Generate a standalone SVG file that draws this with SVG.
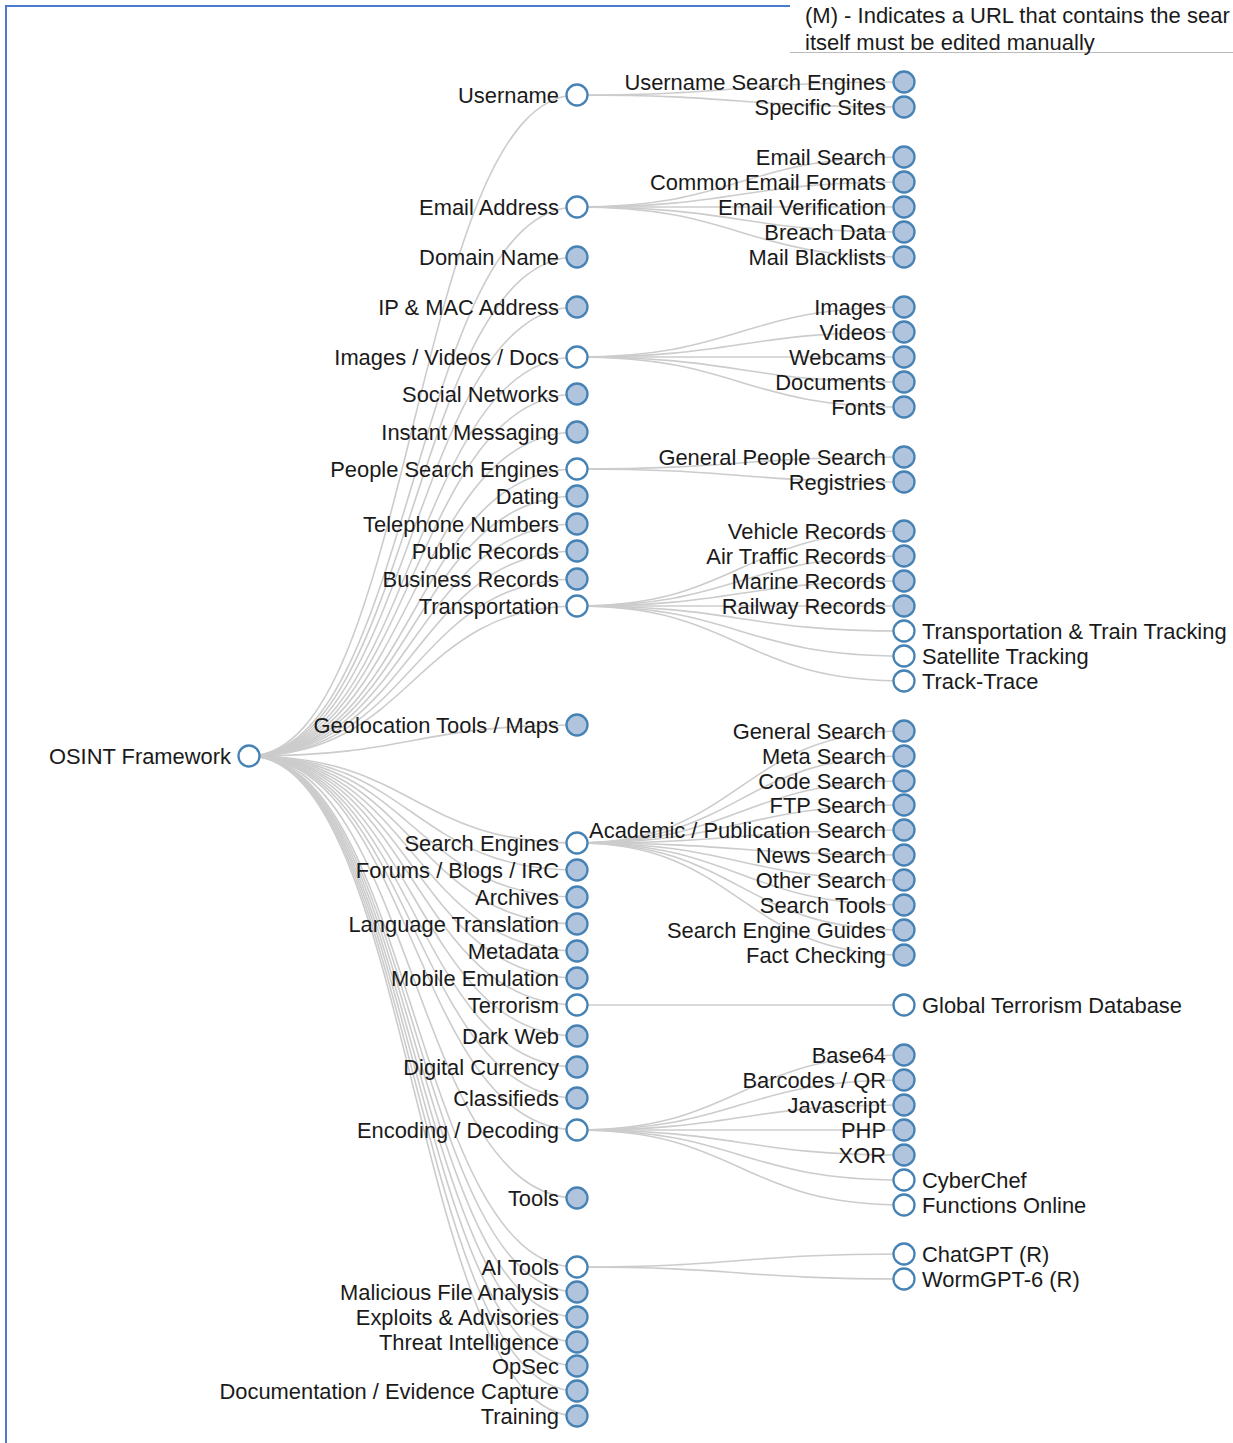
<svg xmlns="http://www.w3.org/2000/svg" width="1233" height="1443" viewBox="0 0 1233 1443">
<style>
.link{fill:none;stroke:#cccccc;stroke-width:1.6}
.node circle{stroke:#4682b4;stroke-width:2.3}
.c{fill:#b0c4de}
.o{fill:#ffffff}
text{font-family:"Liberation Sans",Arial,Helvetica,sans-serif;font-size:21.9px;fill:#1a1a1a}
.l{text-anchor:end}
.r{text-anchor:start}
</style>
<rect x="0" y="0" width="1233" height="1443" fill="#ffffff"/>
<g id="frame">
<line x1="6" y1="6" x2="6" y2="1443" stroke="#4a7bd0" stroke-width="2"/>
<line x1="5" y1="6" x2="790" y2="6" stroke="#4a7bd0" stroke-width="2"/>
<line x1="790" y1="52.5" x2="1233" y2="52.5" stroke="#bbbbbb" stroke-width="1"/>
</g>
<g id="legend">
<text x="805" y="22.5" style="font-size:22px">(M) - Indicates a URL that contains the sear</text>
<text x="805" y="49.5" style="font-size:22px">itself must be edited manually</text>
</g>
<g id="links">
<path class="link" d="M249,756C413,756 413,95 577,95"/>
<path class="link" d="M249,756C413,756 413,207 577,207"/>
<path class="link" d="M249,756C413,756 413,257 577,257"/>
<path class="link" d="M249,756C413,756 413,307 577,307"/>
<path class="link" d="M249,756C413,756 413,357 577,357"/>
<path class="link" d="M249,756C413,756 413,394 577,394"/>
<path class="link" d="M249,756C413,756 413,432 577,432"/>
<path class="link" d="M249,756C413,756 413,469 577,469"/>
<path class="link" d="M249,756C413,756 413,496 577,496"/>
<path class="link" d="M249,756C413,756 413,524 577,524"/>
<path class="link" d="M249,756C413,756 413,551 577,551"/>
<path class="link" d="M249,756C413,756 413,579 577,579"/>
<path class="link" d="M249,756C413,756 413,606 577,606"/>
<path class="link" d="M249,756C413,756 413,725 577,725"/>
<path class="link" d="M249,756C413,756 413,843 577,843"/>
<path class="link" d="M249,756C413,756 413,870 577,870"/>
<path class="link" d="M249,756C413,756 413,897 577,897"/>
<path class="link" d="M249,756C413,756 413,924 577,924"/>
<path class="link" d="M249,756C413,756 413,951 577,951"/>
<path class="link" d="M249,756C413,756 413,978 577,978"/>
<path class="link" d="M249,756C413,756 413,1005 577,1005"/>
<path class="link" d="M249,756C413,756 413,1036 577,1036"/>
<path class="link" d="M249,756C413,756 413,1067 577,1067"/>
<path class="link" d="M249,756C413,756 413,1098 577,1098"/>
<path class="link" d="M249,756C413,756 413,1130 577,1130"/>
<path class="link" d="M249,756C413,756 413,1198 577,1198"/>
<path class="link" d="M249,756C413,756 413,1267 577,1267"/>
<path class="link" d="M249,756C413,756 413,1292 577,1292"/>
<path class="link" d="M249,756C413,756 413,1317 577,1317"/>
<path class="link" d="M249,756C413,756 413,1342 577,1342"/>
<path class="link" d="M249,756C413,756 413,1366 577,1366"/>
<path class="link" d="M249,756C413,756 413,1391 577,1391"/>
<path class="link" d="M249,756C413,756 413,1416 577,1416"/>
<path class="link" d="M577,95C740,95 740,82 904,82"/>
<path class="link" d="M577,95C740,95 740,107 904,107"/>
<path class="link" d="M577,207C740,207 740,157 904,157"/>
<path class="link" d="M577,207C740,207 740,182 904,182"/>
<path class="link" d="M577,207C740,207 740,207 904,207"/>
<path class="link" d="M577,207C740,207 740,232 904,232"/>
<path class="link" d="M577,207C740,207 740,257 904,257"/>
<path class="link" d="M577,357C740,357 740,307 904,307"/>
<path class="link" d="M577,357C740,357 740,332 904,332"/>
<path class="link" d="M577,357C740,357 740,357 904,357"/>
<path class="link" d="M577,357C740,357 740,382 904,382"/>
<path class="link" d="M577,357C740,357 740,407 904,407"/>
<path class="link" d="M577,469C740,469 740,457 904,457"/>
<path class="link" d="M577,469C740,469 740,482 904,482"/>
<path class="link" d="M577,606C740,606 740,531 904,531"/>
<path class="link" d="M577,606C740,606 740,556 904,556"/>
<path class="link" d="M577,606C740,606 740,581 904,581"/>
<path class="link" d="M577,606C740,606 740,606 904,606"/>
<path class="link" d="M577,606C740,606 740,631 904,631"/>
<path class="link" d="M577,606C740,606 740,656 904,656"/>
<path class="link" d="M577,606C740,606 740,681 904,681"/>
<path class="link" d="M577,843C740,843 740,731 904,731"/>
<path class="link" d="M577,843C740,843 740,756 904,756"/>
<path class="link" d="M577,843C740,843 740,781 904,781"/>
<path class="link" d="M577,843C740,843 740,805 904,805"/>
<path class="link" d="M577,843C740,843 740,830 904,830"/>
<path class="link" d="M577,843C740,843 740,855 904,855"/>
<path class="link" d="M577,843C740,843 740,880 904,880"/>
<path class="link" d="M577,843C740,843 740,905 904,905"/>
<path class="link" d="M577,843C740,843 740,930 904,930"/>
<path class="link" d="M577,843C740,843 740,955 904,955"/>
<path class="link" d="M577,1005C740,1005 740,1005 904,1005"/>
<path class="link" d="M577,1130C740,1130 740,1055 904,1055"/>
<path class="link" d="M577,1130C740,1130 740,1080 904,1080"/>
<path class="link" d="M577,1130C740,1130 740,1105 904,1105"/>
<path class="link" d="M577,1130C740,1130 740,1130 904,1130"/>
<path class="link" d="M577,1130C740,1130 740,1155 904,1155"/>
<path class="link" d="M577,1130C740,1130 740,1180 904,1180"/>
<path class="link" d="M577,1130C740,1130 740,1205 904,1205"/>
<path class="link" d="M577,1267C740,1267 740,1254 904,1254"/>
<path class="link" d="M577,1267C740,1267 740,1279 904,1279"/>
</g>
<g id="nodes">
<g id="n-root" class="node"><circle class="o" cx="249" cy="756" r="10.5"/><text class="l" x="231" y="763.5">OSINT Framework</text></g>
<g id="n-username" class="node"><circle class="o" cx="577" cy="95" r="10.5"/><text class="l" x="559" y="102.5">Username</text></g>
<g id="n-email" class="node"><circle class="o" cx="577" cy="207" r="10.5"/><text class="l" x="559" y="214.5">Email Address</text></g>
<g id="n-domain" class="node"><circle class="c" cx="577" cy="257" r="10.5"/><text class="l" x="559" y="264.5">Domain Name</text></g>
<g id="n-ip" class="node"><circle class="c" cx="577" cy="307" r="10.5"/><text class="l" x="559" y="314.5">IP &amp; MAC Address</text></g>
<g id="n-images" class="node"><circle class="o" cx="577" cy="357" r="10.5"/><text class="l" x="559" y="364.5">Images / Videos / Docs</text></g>
<g id="n-social" class="node"><circle class="c" cx="577" cy="394" r="10.5"/><text class="l" x="559" y="401.5">Social Networks</text></g>
<g id="n-im" class="node"><circle class="c" cx="577" cy="432" r="10.5"/><text class="l" x="559" y="439.5">Instant Messaging</text></g>
<g id="n-people" class="node"><circle class="o" cx="577" cy="469" r="10.5"/><text class="l" x="559" y="476.5">People Search Engines</text></g>
<g id="n-dating" class="node"><circle class="c" cx="577" cy="496" r="10.5"/><text class="l" x="559" y="503.5">Dating</text></g>
<g id="n-phone" class="node"><circle class="c" cx="577" cy="524" r="10.5"/><text class="l" x="559" y="531.5">Telephone Numbers</text></g>
<g id="n-public" class="node"><circle class="c" cx="577" cy="551" r="10.5"/><text class="l" x="559" y="558.5">Public Records</text></g>
<g id="n-business" class="node"><circle class="c" cx="577" cy="579" r="10.5"/><text class="l" x="559" y="586.5">Business Records</text></g>
<g id="n-transport" class="node"><circle class="o" cx="577" cy="606" r="10.5"/><text class="l" x="559" y="613.5">Transportation</text></g>
<g id="n-geo" class="node"><circle class="c" cx="577" cy="725" r="10.5"/><text class="l" x="559" y="732.5">Geolocation Tools / Maps</text></g>
<g id="n-search" class="node"><circle class="o" cx="577" cy="843" r="10.5"/><text class="l" x="559" y="850.5">Search Engines</text></g>
<g id="n-forums" class="node"><circle class="c" cx="577" cy="870" r="10.5"/><text class="l" x="559" y="877.5">Forums / Blogs / IRC</text></g>
<g id="n-archives" class="node"><circle class="c" cx="577" cy="897" r="10.5"/><text class="l" x="559" y="904.5">Archives</text></g>
<g id="n-lang" class="node"><circle class="c" cx="577" cy="924" r="10.5"/><text class="l" x="559" y="931.5">Language Translation</text></g>
<g id="n-meta" class="node"><circle class="c" cx="577" cy="951" r="10.5"/><text class="l" x="559" y="958.5">Metadata</text></g>
<g id="n-mobile" class="node"><circle class="c" cx="577" cy="978" r="10.5"/><text class="l" x="559" y="985.5">Mobile Emulation</text></g>
<g id="n-terror" class="node"><circle class="o" cx="577" cy="1005" r="10.5"/><text class="l" x="559" y="1012.5">Terrorism</text></g>
<g id="n-dark" class="node"><circle class="c" cx="577" cy="1036" r="10.5"/><text class="l" x="559" y="1043.5">Dark Web</text></g>
<g id="n-digital" class="node"><circle class="c" cx="577" cy="1067" r="10.5"/><text class="l" x="559" y="1074.5">Digital Currency</text></g>
<g id="n-class" class="node"><circle class="c" cx="577" cy="1098" r="10.5"/><text class="l" x="559" y="1105.5">Classifieds</text></g>
<g id="n-encoding" class="node"><circle class="o" cx="577" cy="1130" r="10.5"/><text class="l" x="559" y="1137.5">Encoding / Decoding</text></g>
<g id="n-tools" class="node"><circle class="c" cx="577" cy="1198" r="10.5"/><text class="l" x="559" y="1205.5">Tools</text></g>
<g id="n-ai" class="node"><circle class="o" cx="577" cy="1267" r="10.5"/><text class="l" x="559" y="1274.5">AI Tools</text></g>
<g id="n-malicious" class="node"><circle class="c" cx="577" cy="1292" r="10.5"/><text class="l" x="559" y="1299.5">Malicious File Analysis</text></g>
<g id="n-exploits" class="node"><circle class="c" cx="577" cy="1317" r="10.5"/><text class="l" x="559" y="1324.5">Exploits &amp; Advisories</text></g>
<g id="n-threat" class="node"><circle class="c" cx="577" cy="1342" r="10.5"/><text class="l" x="559" y="1349.5">Threat Intelligence</text></g>
<g id="n-opsec" class="node"><circle class="c" cx="577" cy="1366" r="10.5"/><text class="l" x="559" y="1373.5">OpSec</text></g>
<g id="n-doc" class="node"><circle class="c" cx="577" cy="1391" r="10.5"/><text class="l" x="559" y="1398.5">Documentation / Evidence Capture</text></g>
<g id="n-training" class="node"><circle class="c" cx="577" cy="1416" r="10.5"/><text class="l" x="559" y="1423.5">Training</text></g>
<g id="n-u1" class="node"><circle class="c" cx="904" cy="82" r="10.5"/><text class="l" x="886" y="89.5">Username Search Engines</text></g>
<g id="n-u2" class="node"><circle class="c" cx="904" cy="107" r="10.5"/><text class="l" x="886" y="114.5">Specific Sites</text></g>
<g id="n-e1" class="node"><circle class="c" cx="904" cy="157" r="10.5"/><text class="l" x="886" y="164.5">Email Search</text></g>
<g id="n-e2" class="node"><circle class="c" cx="904" cy="182" r="10.5"/><text class="l" x="886" y="189.5">Common Email Formats</text></g>
<g id="n-e3" class="node"><circle class="c" cx="904" cy="207" r="10.5"/><text class="l" x="886" y="214.5">Email Verification</text></g>
<g id="n-e4" class="node"><circle class="c" cx="904" cy="232" r="10.5"/><text class="l" x="886" y="239.5">Breach Data</text></g>
<g id="n-e5" class="node"><circle class="c" cx="904" cy="257" r="10.5"/><text class="l" x="886" y="264.5">Mail Blacklists</text></g>
<g id="n-i1" class="node"><circle class="c" cx="904" cy="307" r="10.5"/><text class="l" x="886" y="314.5">Images</text></g>
<g id="n-i2" class="node"><circle class="c" cx="904" cy="332" r="10.5"/><text class="l" x="886" y="339.5">Videos</text></g>
<g id="n-i3" class="node"><circle class="c" cx="904" cy="357" r="10.5"/><text class="l" x="886" y="364.5">Webcams</text></g>
<g id="n-i4" class="node"><circle class="c" cx="904" cy="382" r="10.5"/><text class="l" x="886" y="389.5">Documents</text></g>
<g id="n-i5" class="node"><circle class="c" cx="904" cy="407" r="10.5"/><text class="l" x="886" y="414.5">Fonts</text></g>
<g id="n-p1" class="node"><circle class="c" cx="904" cy="457" r="10.5"/><text class="l" x="886" y="464.5">General People Search</text></g>
<g id="n-p2" class="node"><circle class="c" cx="904" cy="482" r="10.5"/><text class="l" x="886" y="489.5">Registries</text></g>
<g id="n-t1" class="node"><circle class="c" cx="904" cy="531" r="10.5"/><text class="l" x="886" y="538.5">Vehicle Records</text></g>
<g id="n-t2" class="node"><circle class="c" cx="904" cy="556" r="10.5"/><text class="l" x="886" y="563.5">Air Traffic Records</text></g>
<g id="n-t3" class="node"><circle class="c" cx="904" cy="581" r="10.5"/><text class="l" x="886" y="588.5">Marine Records</text></g>
<g id="n-t4" class="node"><circle class="c" cx="904" cy="606" r="10.5"/><text class="l" x="886" y="613.5">Railway Records</text></g>
<g id="n-t5" class="node"><circle class="o" cx="904" cy="631" r="10.5"/><text class="r" x="922" y="638.5">Transportation &amp; Train Tracking</text></g>
<g id="n-t6" class="node"><circle class="o" cx="904" cy="656" r="10.5"/><text class="r" x="922" y="663.5">Satellite Tracking</text></g>
<g id="n-t7" class="node"><circle class="o" cx="904" cy="681" r="10.5"/><text class="r" x="922" y="688.5">Track-Trace</text></g>
<g id="n-s1" class="node"><circle class="c" cx="904" cy="731" r="10.5"/><text class="l" x="886" y="738.5">General Search</text></g>
<g id="n-s2" class="node"><circle class="c" cx="904" cy="756" r="10.5"/><text class="l" x="886" y="763.5">Meta Search</text></g>
<g id="n-s3" class="node"><circle class="c" cx="904" cy="781" r="10.5"/><text class="l" x="886" y="788.5">Code Search</text></g>
<g id="n-s4" class="node"><circle class="c" cx="904" cy="805" r="10.5"/><text class="l" x="886" y="812.5">FTP Search</text></g>
<g id="n-s5" class="node"><circle class="c" cx="904" cy="830" r="10.5"/><text class="l" x="886" y="837.5">Academic / Publication Search</text></g>
<g id="n-s6" class="node"><circle class="c" cx="904" cy="855" r="10.5"/><text class="l" x="886" y="862.5">News Search</text></g>
<g id="n-s7" class="node"><circle class="c" cx="904" cy="880" r="10.5"/><text class="l" x="886" y="887.5">Other Search</text></g>
<g id="n-s8" class="node"><circle class="c" cx="904" cy="905" r="10.5"/><text class="l" x="886" y="912.5">Search Tools</text></g>
<g id="n-s9" class="node"><circle class="c" cx="904" cy="930" r="10.5"/><text class="l" x="886" y="937.5">Search Engine Guides</text></g>
<g id="n-s10" class="node"><circle class="c" cx="904" cy="955" r="10.5"/><text class="l" x="886" y="962.5">Fact Checking</text></g>
<g id="n-gtd" class="node"><circle class="o" cx="904" cy="1005" r="10.5"/><text class="r" x="922" y="1012.5">Global Terrorism Database</text></g>
<g id="n-d1" class="node"><circle class="c" cx="904" cy="1055" r="10.5"/><text class="l" x="886" y="1062.5">Base64</text></g>
<g id="n-d2" class="node"><circle class="c" cx="904" cy="1080" r="10.5"/><text class="l" x="886" y="1087.5">Barcodes / QR</text></g>
<g id="n-d3" class="node"><circle class="c" cx="904" cy="1105" r="10.5"/><text class="l" x="886" y="1112.5">Javascript</text></g>
<g id="n-d4" class="node"><circle class="c" cx="904" cy="1130" r="10.5"/><text class="l" x="886" y="1137.5">PHP</text></g>
<g id="n-d5" class="node"><circle class="c" cx="904" cy="1155" r="10.5"/><text class="l" x="886" y="1162.5">XOR</text></g>
<g id="n-d6" class="node"><circle class="o" cx="904" cy="1180" r="10.5"/><text class="r" x="922" y="1187.5">CyberChef</text></g>
<g id="n-d7" class="node"><circle class="o" cx="904" cy="1205" r="10.5"/><text class="r" x="922" y="1212.5">Functions Online</text></g>
<g id="n-a1" class="node"><circle class="o" cx="904" cy="1254" r="10.5"/><text class="r" x="922" y="1261.5">ChatGPT (R)</text></g>
<g id="n-a2" class="node"><circle class="o" cx="904" cy="1279" r="10.5"/><text class="r" x="922" y="1286.5">WormGPT-6 (R)</text></g>
</g>
</svg>
